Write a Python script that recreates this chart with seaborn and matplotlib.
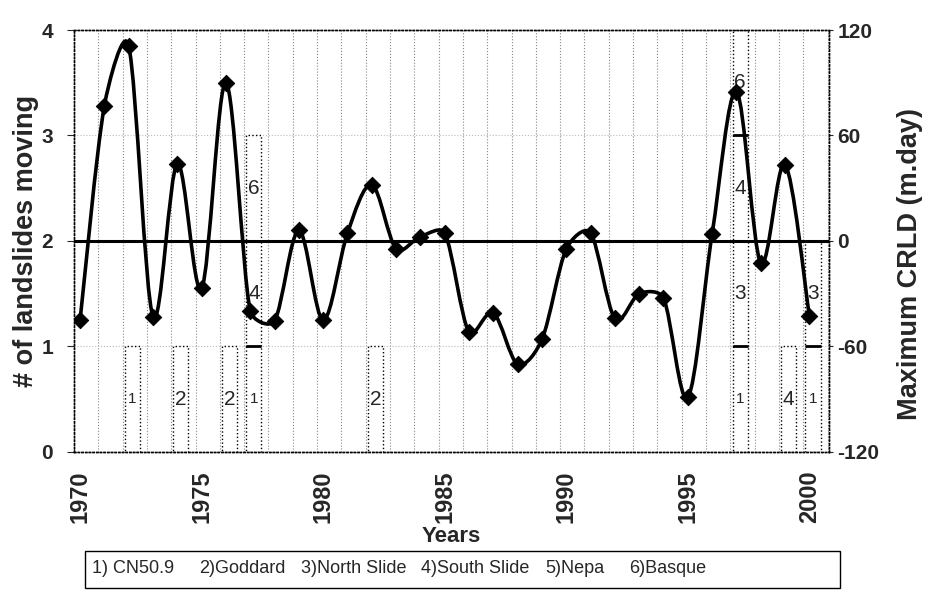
import numpy as np
import pandas as pd
import matplotlib
matplotlib.use("Agg")
import matplotlib.pyplot as plt
from matplotlib.path import Path
from matplotlib.patches import PathPatch, Rectangle
import seaborn as sns

# -----------------------------
# Data
# -----------------------------
years = list(range(1970, 2001))
crld = [-45, 77, 111, -43, 44, -27, 90, -40, -45.5, 6,
        -45, 4.5, 32, -4.5, 2.5, 4.5, -52, -41, -70, -56,
        -4.5, 4.5, -44, -30, -32.5, -89, 4, 85, -12.5, 43.5,
        -42.5]

# one entry per landslide that moved in a given year
slide_years = [1972, 1974, 1976, 1977, 1977, 1977, 1982,
               1997, 1997, 1997, 1997, 1999, 2000, 2000]
slide_ids = [1, 2, 2, 1, 4, 6, 2,
             1, 3, 4, 6, 4, 1, 3]

slide_names = ["1) CN50.9", "2)Goddard", "3)North Slide",
               "4)South Slide", "5)Nepa", "6)Basque"]

year_ticks = [1970, 1975, 1980, 1985, 1990, 1995, 2000]
crld_ticks = [-120, -60, 0, 60, 120]
count_ticks = [0, 1, 2, 3, 4]

# -----------------------------
# Style
# -----------------------------
sns.set_style("white")
plt.rcParams["font.family"] = ["Liberation Sans", "DejaVu Sans"]

fig = plt.figure(figsize=(9.25, 6), dpi=100)
ax = fig.add_axes([0.08, 0.2467, 0.816, 0.7033])
ax2 = ax.twinx()

ax.set_xlim(1969.75, 2000.8)
ax.set_ylim(0, 4)
ax2.set_ylim(-120, 120)

# -----------------------------
# Stacked landslide bars
# -----------------------------
df = pd.DataFrame({"year": slide_years, "slide": slide_ids})
df["bottom"] = df.groupby("year").cumcount()
df["n"] = df.groupby("year")["slide"].transform("size")
df["x"] = df["year"] + 0.15

bar_w = 0.62
ax.bar(df["x"], 1, width=bar_w, bottom=df["bottom"], facecolor="white",
       edgecolor="black", linestyle=":", linewidth=1.0, zorder=2)

inner = df[df["bottom"] + 1 < df["n"]]
ax.hlines(inner["bottom"] + 1, inner["x"] - bar_w / 2, inner["x"] + bar_w / 2,
          color="black", linewidth=2, zorder=3)

for x, b, s in zip(df["x"], df["bottom"], df["slide"]):
    ax.text(x, b + 0.5, str(int(s)), ha="center", va="center",
            fontsize=11 if s == 1 else 15, zorder=5)

# -----------------------------
# Smoothed CRLD line (catmull-rom bezier in screen space, handles clamped)
# -----------------------------
P = ax2.transData.transform(np.column_stack([years, crld]).astype(float))
n = len(P)
tang = np.array([(P[min(i + 1, n - 1)] - P[max(i - 1, 0)]) / 6 for i in range(n)])


def handle(t, seg):
    L = np.hypot(*t)
    lim = 0.35 * seg
    return t if L <= lim else t * lim / L


verts = [P[0]]
codes = [Path.MOVETO]
for i in range(n - 1):
    seg = np.hypot(*(P[i + 1] - P[i]))
    verts += [P[i] + handle(tang[i], seg), P[i + 1] - handle(tang[i + 1], seg), P[i + 1]]
    codes += [Path.CURVE4] * 3
verts = ax2.transData.inverted().transform(np.array(verts))
ax2.add_patch(PathPatch(Path(verts, codes), fill=False, edgecolor="black",
                        linewidth=2.6, zorder=4))
sns.scatterplot(x=years, y=crld, ax=ax2, marker="D", s=70, color="black",
                edgecolor="black", zorder=6)
ax2.axhline(0, color="black", linewidth=2.2, zorder=3)

# -----------------------------
# Axes
# -----------------------------
ax.set_xticks(year_ticks)
ax.set_xticklabels([str(y) for y in year_ticks], rotation=90, fontsize=17,
                   fontweight="bold")
ax.set_xticks(np.arange(1969.75, 2001, 1), minor=True)
ax.tick_params(axis="x", which="major", length=0, pad=13)
ax.tick_params(axis="x", which="minor", length=5, width=0.8, direction="out")
ax.grid(which="minor", axis="x", linestyle=":", color="#888888", linewidth=0.8)
ax.grid(which="major", axis="y", linestyle=":", color="#bbbbbb", linewidth=0.8)
ax.grid(which="major", axis="x", visible=False)
ax.set_axisbelow(True)

ax.set_yticks(count_ticks)
ax.set_yticklabels([str(v) for v in count_ticks], fontsize=15, fontweight="bold")
ax.tick_params(axis="y", length=5, width=0.8, direction="out", pad=10, left=True)

ax2.set_yticks(crld_ticks)
ax2.set_yticklabels([str(v) for v in crld_ticks], fontsize=15, fontweight="bold")
ax2.tick_params(axis="y", length=3, width=0.8, direction="out", pad=3, right=True)
ax2.grid(False)

for a in (ax, ax2):
    for s in a.spines.values():
        s.set_linestyle(":")
        s.set_color("black")
        s.set_linewidth(1.0)

ax.set_xlabel("Years", fontsize=16, fontweight="bold")
ax.xaxis.set_label_coords(0.5, -0.2)
ax.xaxis.label.set_va("center")
ax.set_ylabel("# of landslides moving", fontsize=19.5, fontweight="bold", labelpad=2)
ax2.set_ylabel("Maximum CRLD (m.day)", fontsize=19.5, fontweight="bold")
ax2.yaxis.set_label_coords(1.09, 0.445)

# -----------------------------
# Landslide key box
# -----------------------------
fig.patches.append(Rectangle((0.092, 0.02), 0.816, 0.062, transform=fig.transFigure,
                             facecolor="white", edgecolor="black", linewidth=1))
key_x = [0.099, 0.215, 0.325, 0.455, 0.59, 0.68]
for name, kx in zip(slide_names, key_x):
    fig.text(kx, 0.052, name, fontsize=13, va="center", ha="left",
             family=["Liberation Sans Narrow", "Liberation Sans", "DejaVu Sans"])

fig.savefig("out.png", dpi=100)
